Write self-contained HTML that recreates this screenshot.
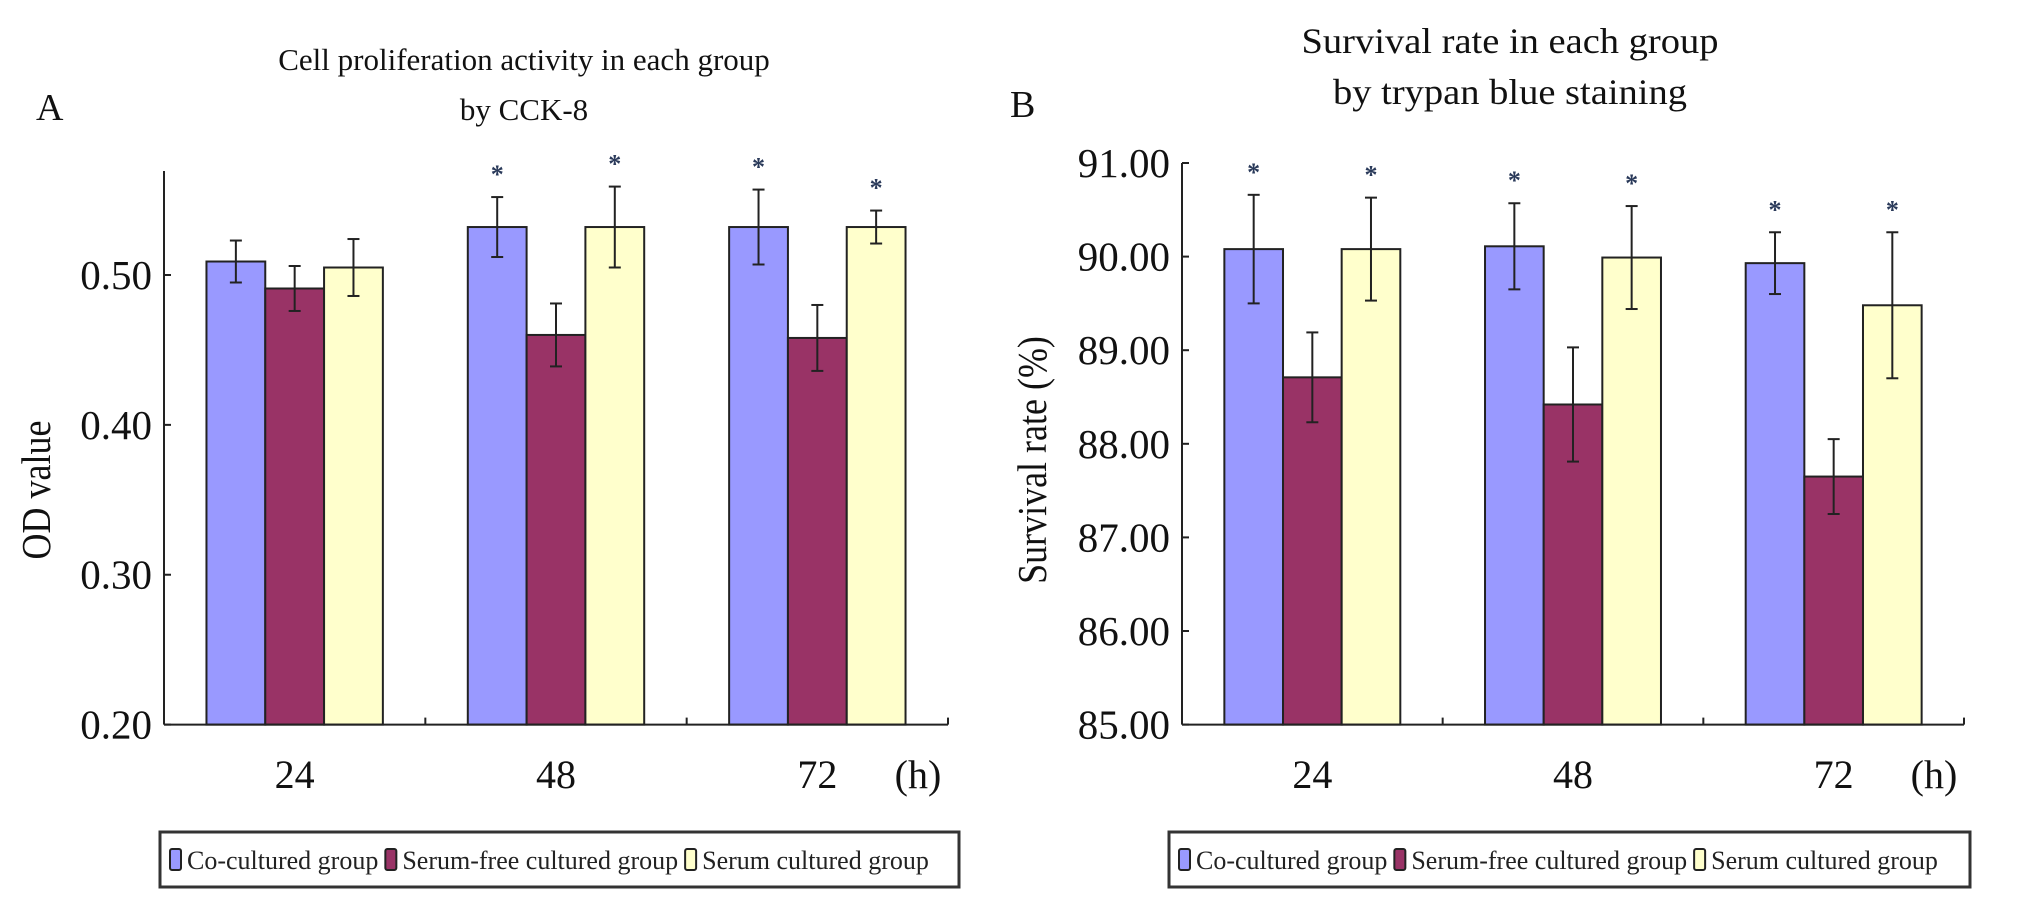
<!DOCTYPE html>
<html><head><meta charset="utf-8"><style>
body{margin:0;background:#fff;}
svg{display:block;font-family:"Liberation Serif",serif;}
</style></head><body>
<svg id="root" width="2031" height="914" viewBox="0 0 2031 914"></svg>
<script>
const categories=["24","48","72"];
const seriesNames=["Co-cultured group","Serum-free cultured group","Serum cultured group"];
const colors=["#9999FF","#993366","#FFFFCC"];
// Panel A
const aCo=[0.509,0.532,0.532];
const aFree=[0.491,0.460,0.458];
const aSerum=[0.505,0.532,0.532];
const aCoErr=[0.014,0.020,0.025];
const aFreeErr=[0.015,0.021,0.022];
const aSerumErr=[0.019,0.027,0.011];
const aStars=[[false,false,false],[true,false,true],[true,false,true]];
const aTicks=["0.20","0.30","0.40","0.50"];
// Panel B
const bCo=[90.08,90.11,89.93];
const bFree=[88.71,88.42,87.65];
const bSerum=[90.08,89.99,89.48];
const bCoErr=[0.58,0.46,0.33];
const bFreeErr=[0.48,0.61,0.40];
const bSerumErr=[0.55,0.55,0.78];
const bStars=[[true,false,true],[true,false,true],[true,false,true]];
const bTicks=["85.00","86.00","87.00","88.00","89.00","90.00","91.00"];

const NS="http://www.w3.org/2000/svg";
const root=document.getElementById('root');
function mk(tag,attrs,parent,text){const e=document.createElementNS(NS,tag);for(const k in attrs)e.setAttribute(k,attrs[k]);if(text!==undefined)e.textContent=text;(parent||root).appendChild(e);return e;}
function stext(x,y,sx,attrs,parent,text){attrs.x=0;attrs.y=0;attrs.transform=`translate(${x},${y}) scale(${sx},1)`;return mk('text',attrs,parent,text);}

function panel(cfg){
  const g=mk('g',{});
  
  
  const {x0,x1,yBot,min,max}=cfg;
  const Y=v=>yBot-(v-min)/(max-min)*(yBot-cfg.yMaxPix);
  const cw=(x1-x0)/categories.length, bw=cw*0.225;
  cfg.title.forEach((t,i)=>{const e=stext(cfg.titleX,cfg.titleY[i],cfg.titleSx,{'font-size':cfg.titleFs,'text-anchor':'middle',fill:'#111'},g,t);
    
    });
  const lab=mk('text',{x:cfg.letterX,y:cfg.letterY,'font-size':38,fill:'#111'},g,cfg.letter);
  
  
  const yl=mk('text',{x:0,y:0,'font-size':36,'text-anchor':'middle',fill:'#111',transform:`translate(${cfg.ylX},${cfg.ylY}) scale(1.15,1) rotate(-90)`},g,cfg.ylabel);
  
  
  cfg.ticks.forEach(t=>{const v=parseFloat(t),y=Y(v);
    mk('line',{x1:x0,x2:x0+7,y1:y,y2:y,stroke:'#222','stroke-width':2},g);
    const e=mk('text',{x:cfg.tickRight,y:y+14,'font-size':41,'text-anchor':'end',fill:'#111'},g,t);
    
    });
  const vals=[cfg.co,cfg.free,cfg.serum], errs=[cfg.coE,cfg.freeE,cfg.serumE];
  categories.forEach((c,i)=>{
    const cx=x0+cw*(i+0.5);
    for(let s=0;s<3;s++){
      const bx=cx-1.5*bw+s*bw, v=vals[s][i], y=Y(v);
      const r=mk('rect',{x:bx,y:y,width:bw,height:yBot-y,fill:colors[s],stroke:'#222','stroke-width':2},g);
      
      
      const ex=bx+bw/2, yh=Y(v+errs[s][i]), yl2=Y(v-errs[s][i]);
      mk('line',{x1:ex,x2:ex,y1:yh,y2:yl2,stroke:'#222','stroke-width':2},g);
      mk('line',{x1:ex-6,x2:ex+6,y1:yh,y2:yh,stroke:'#222','stroke-width':2},g);
      mk('line',{x1:ex-6,x2:ex+6,y1:yl2,y2:yl2,stroke:'#222','stroke-width':2},g);
      if(cfg.stars[i][s]){const st=mk('text',{x:ex,y:yh-14,'font-size':26,'font-weight':'bold','text-anchor':'middle',fill:'#2a3a5a'},g,'*');
        
        }
    }
    const xl=mk('text',{x:cx,y:788,'font-size':40,'text-anchor':'middle',fill:'#111'},g,c);
    
    
    if(i>0)mk('line',{x1:x0+cw*i,x2:x0+cw*i,y1:yBot,y2:yBot-7,stroke:'#222','stroke-width':2},g);
  });
  mk('line',{x1:x1,x2:x1,y1:yBot,y2:yBot-7,stroke:'#222','stroke-width':2},g);
  const hu=mk('text',{x:x1-30,y:788,'font-size':40,'text-anchor':'middle',fill:'#111'},g,'(h)');
  
  
  mk('line',{x1:x0,x2:x0,y1:cfg.axisTop,y2:yBot,stroke:'#222','stroke-width':2},g);
  mk('line',{x1:x0,x2:x1,y1:yBot,y2:yBot,stroke:'#222','stroke-width':2},g);
  const lg=mk('g',{},g);
  
  
  mk('rect',{x:cfg.legX,y:832,width:cfg.legW,height:55,fill:'#fff',stroke:'#333','stroke-width':3},lg);
  let lx=cfg.legX+10;
  seriesNames.forEach((n,s)=>{
    mk('rect',{x:lx,y:849,width:11,height:21,rx:2,fill:colors[s],stroke:'#222','stroke-width':2},lg);
    const t=mk('text',{x:lx+17,y:869,'font-size':26,fill:'#222'},lg,n);
    
    
    lx+=17+t.getComputedTextLength()+7;
  });
}
panel({name:'panel-a',x0:164,x1:948,yBot:724.6,yMaxPix:275,min:0.2,max:0.5,axisTop:171,
  ticks:aTicks,tickRight:152,co:aCo,free:aFree,serum:aSerum,coE:aCoErr,freeE:aFreeErr,serumE:aSerumErr,stars:aStars,
  title:["Cell proliferation activity in each group","by CCK-8"],titleX:524,titleY:[70,120],titleSx:1.0,titleFs:31,
  letter:"A",letterX:36,letterY:120,ylabel:"OD value",ylX:50,ylY:490,legX:160,legW:799});
panel({name:'panel-b',x0:1182,x1:1964,yBot:724.6,yMaxPix:163,min:85,max:91,axisTop:163,
  ticks:bTicks,tickRight:1170,co:bCo,free:bFree,serum:bSerum,coE:bCoErr,freeE:bFreeErr,serumE:bSerumErr,stars:bStars,
  title:["Survival rate in each group","by trypan blue staining"],titleX:1510,titleY:[53,104],titleSx:1.07,titleFs:36,
  letter:"B",letterX:1010,letterY:117,ylabel:"Survival rate (%)",ylX:1046,ylY:460,legX:1169,legW:801});
</script>
</body></html>
